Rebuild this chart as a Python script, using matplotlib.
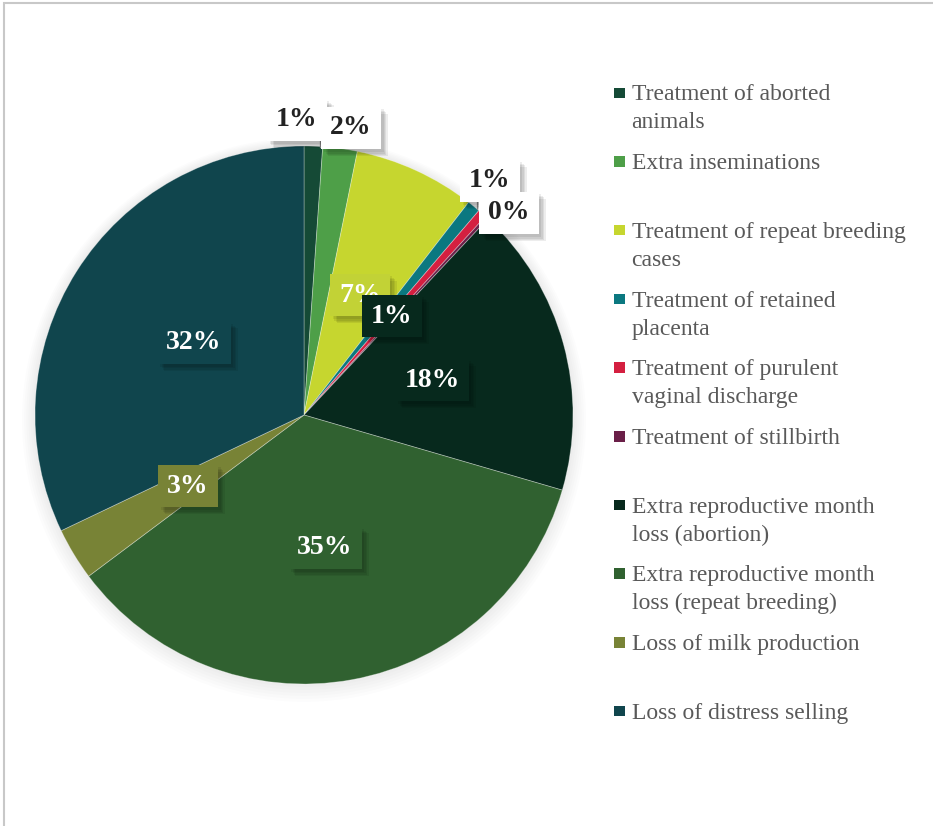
import matplotlib
matplotlib.use("Agg")
import matplotlib.pyplot as plt
import matplotlib.patheffects as pe
from matplotlib.patches import Rectangle, Circle
import numpy as np

# ---------------- data ----------------
categories = [
    "Treatment of aborted\nanimals",
    "Extra inseminations",
    "Treatment of repeat breeding\ncases",
    "Treatment of retained\nplacenta",
    "Treatment of purulent\nvaginal discharge",
    "Treatment of stillbirth",
    "Extra reproductive month\nloss (abortion)",
    "Extra reproductive month\nloss (repeat breeding)",
    "Loss of milk production",
    "Loss of distress selling",
]
values = [1.11, 2.07, 7.30, 0.78, 0.52, 0.20, 17.52, 35.26, 3.15, 32.07]
pct_labels = ["1%", "2%", "7%", "1%", "1%", "0%", "18%", "35%", "3%", "32%"]

# ---------------- style ----------------
colors = ["#154a36", "#4e9f48", "#c6d62f", "#0b7880", "#d41f40",
          "#6a1f48", "#07291d", "#306130", "#788336", "#10454d"]
# label positions (data units, pie radius = 1) and box style
label_pos = [(-0.026, 1.097), (0.175, 1.067), (0.208, 0.446), (0.691, 0.870),
             (0.327, 0.368), (0.762, 0.751), (0.476, 0.130), (0.078, -0.494),
             (-0.431, -0.264), (-0.409, 0.268)]
outside = [True, True, False, True, False, True, False, False, False, False]
box_colors = ["white", "white", "#c2d236", "white", "#07291d",
              "white", "#07291d", "#306130", "#788336", "#10454d"]

W, H = 933, 826
cx, cy, R = 304, 415, 269

fig = plt.figure(figsize=(W / 100, H / 100), dpi=100)
fig.patch.set_facecolor("white")

# frame border (left + top visible)
fig.add_artist(Rectangle((3.5 / W, -0.1), 1.2, 1 - 2.5 / H + 0.1,
                         transform=fig.transFigure, fill=False,
                         edgecolor="#c8c8c8", linewidth=1.5))

ax = fig.add_axes([0, 0, 1, 1])
# soft glow around pie
for k in range(6, 0, -1):
    ax.add_patch(Circle((0, -0.003 * k), 1 + 0.008 * k, color="#a0a6b0",
                        alpha=0.03, lw=0, zorder=0))

wedges, _ = ax.pie(values, colors=colors, startangle=90, counterclock=False,
                   radius=1, center=(0, 0),
                   wedgeprops=dict(edgecolor=(1, 1, 1, 0.35), linewidth=0.6))
for w in wedges:
    w.set_zorder(2)

ax.set_xlim(-cx / R, (W - cx) / R)
ax.set_ylim(-(H - cy) / R, cy / R)
ax.set_aspect("auto")
ax.axis("off")

# leader lines for outside labels: short vertical ticks at wedge end
for i, dy in [(0, 0.045), (3, 0.06)]:
    th = np.deg2rad(wedges[i].theta1 + 0.5)
    x0, y0 = np.cos(th), np.sin(th)
    ax.plot([x0, x0], [y0, y0 + dy], color="#8c8c8c", lw=0.9, zorder=3)

shadow = [pe.withSimplePatchShadow(offset=(o, -o), shadow_rgbFace="black",
                                   alpha=0.07) for o in (5, 4, 3, 2)]
shadow.append(pe.Normal())
for i, (txt, (lx, ly)) in enumerate(zip(pct_labels, label_pos)):
    tcolor = "#222222" if outside[i] else "white"
    t = ax.text(lx, ly, txt, ha="center", va="center", fontsize=20,
                fontweight="bold", family="Liberation Serif", color=tcolor,
                zorder=5,
                bbox=dict(boxstyle="square,pad=0.32", facecolor=box_colors[i],
                          edgecolor="none"))
    t.get_bbox_patch().set_path_effects(shadow)

# legend (manual, matching layout)
y_first = 93.0
step = 68.7
line_gap = 28.0
for i, (lab, col) in enumerate(zip(categories, colors)):
    yc = y_first + i * step
    fig.add_artist(Rectangle((613.5 / W, 1 - (yc + 5) / H), 11 / W, 10.5 / H,
                             transform=fig.transFigure, facecolor=col,
                             edgecolor="none"))
    for j, line in enumerate(lab.split("\n")):
        yb = yc + 7.5 + j * line_gap
        fig.text(631.5 / W, 1 - yb / H, line, ha="left", va="baseline",
                 fontsize=17, family="Liberation Serif", color="#595959")

fig.savefig("out.png", dpi=100, facecolor="white")
